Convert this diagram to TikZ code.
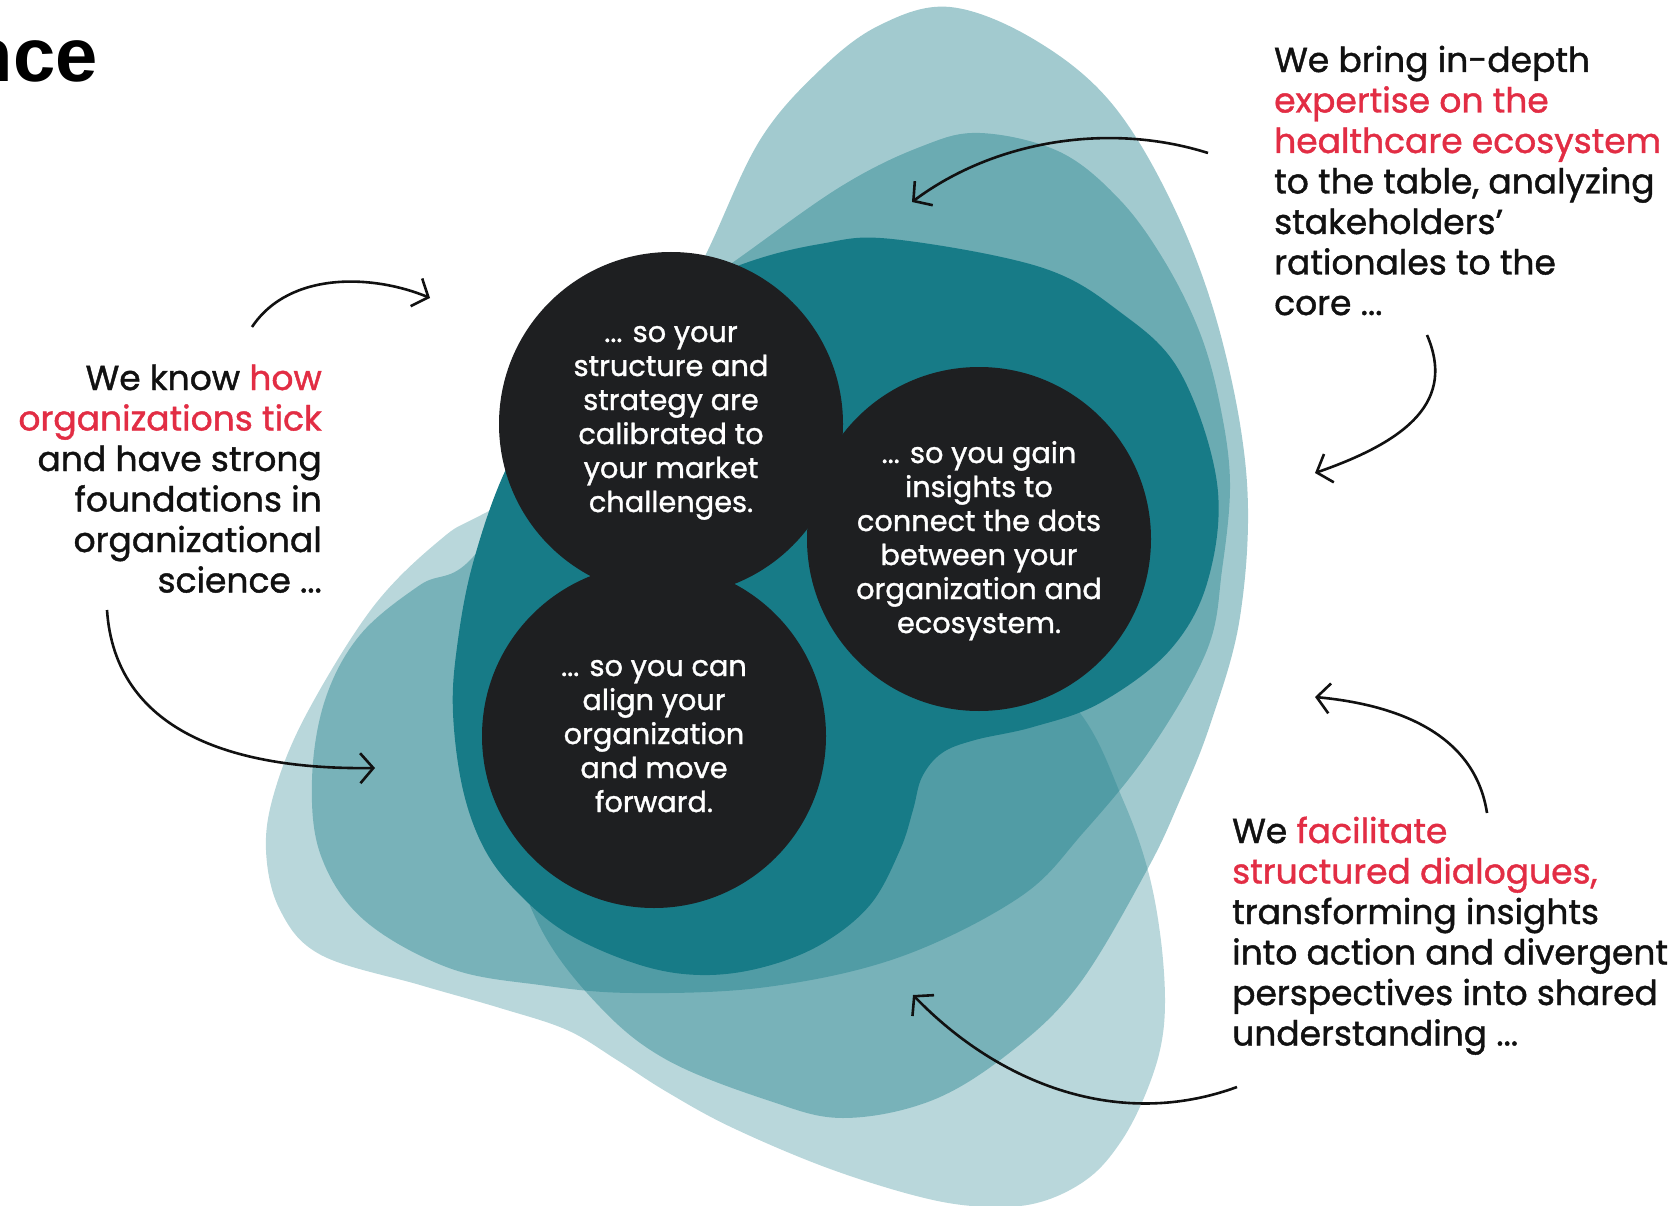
\documentclass[tikz,border=0pt]{standalone}
\usepackage{fontspec}
\setmainfont{Poppins}[FakeBold=1.2]
\newfontfamily\titlefont{Liberation Sans}
\usetikzlibrary{arrows.meta}
\definecolor{coreteal}{HTML}{177B87}
\definecolor{circleblack}{HTML}{1E1F21}
\definecolor{accent}{HTML}{E22D44}
\definecolor{ink}{HTML}{111111}
\tikzset{
  blob/.style={fill=coreteal, draw=none},
  disc/.style={circle, fill=circleblack, minimum size=344pt, inner sep=0pt},
  circtext/.style={font=\fontsize{28.8}{34}\selectfont, text=white, inner sep=0pt, anchor=base},
  lefttext/.style={font=\fontsize{34.5}{40}\selectfont, text=ink, inner sep=0pt, anchor=base east},
  righttext/.style={font=\fontsize{34.5}{40}\selectfont, text=ink, inner sep=0pt, anchor=base west},
  curvearrow/.style={draw=ink, line width=2.6pt, -{Straight Barb[length=13pt,width=30pt]}},
}
\begin{document}
\begin{tikzpicture}[x=1pt,y=-1pt]
\useasboundingbox (0,0) rectangle (1673,1206);
\clip (0,0) rectangle (1673,1206);

% title fragment
\node[font=\titlefont\bfseries\fontsize{76}{80}\selectfont, text=black, anchor=base east, inner sep=0pt] (title) at (98,82) {nce};

% blob B (light, bottom)
\fill[blob, opacity=0.3] plot[smooth cycle, tension=0.6] coordinates {
(487,512) (440,540) (373,607) (307,713) (275,790) (266,850) (280,910) (321,955) (420,985) (500,1008) (567,1030) (617,1060) (667,1092) (733,1128) (833,1170) (933,1200) (1000,1207) (1047,1200) (1090,1177) (1120,1143) (1143,1100) (1160,1050) (1165,1000) (1160,933) (1147,867) (1123,800) (1080,713) (1000,640) (850,520) (650,430)};

% blob A (tilted egg)
\fill[blob, opacity=0.4] plot[smooth cycle, tension=0.6] coordinates {
(980,133) (1060,152) (1120,200) (1165,262) (1200,333) (1220,405) (1230,483) (1222,570) (1207,650) (1150,750) (1083,833) (1020,897) (900,957) (767,987) (633,993) (540,985) (449,968) (364,920) (321,856) (312,780) (325,700) (360,635) (420,585) (473,557) (560,430) (650,320) (732,263) (840,187) (920,147)};

% blob T (tall egg)
\fill[blob, opacity=0.4] plot[smooth cycle, tension=0.6] coordinates {
(950,7) (1035,40) (1113,105) (1177,214) (1222,340) (1247,483) (1240,617) (1210,725) (1180,800) (1147,870) (1080,983) (1013,1050) (933,1100) (843,1118) (767,1100) (667,1060) (600,1007) (540,927) (505,820) (500,680) (560,520) (650,370) (708,250) (760,140) (820,70) (880,25)};

% dark core
\fill[blob] plot[smooth cycle, tension=0.6] coordinates {
(740,265) (820,244) (892,239) (1040,267) (1120,312) (1180,372) (1217,483) (1208,580) (1170,650) (1100,703) (1033,727) (975,740) (942,753) (922,777) (913,810) (900,850) (870,905) (820,945) (760,968) (700,975) (640,965) (570,935) (520,895) (485,850) (463,790) (453,713) (457,647) (473,563) (507,467) (560,380) (640,310)};

% black circles
\node[disc] (c1) at (671,424) {};
\node[disc] (c2) at (979,539) {};
\node[disc] (c3) at (654,736) {};

% circle texts
\node[circtext] (c1a) at (671,342) {... so your};
\node[circtext] (c1b) at (671,376) {structure and};
\node[circtext] (c1c) at (671,410) {strategy are};
\node[circtext] (c1d) at (671,444) {calibrated to};
\node[circtext] (c1e) at (671,478) {your market};
\node[circtext] (c1f) at (671,512) {challenges.};

\node[circtext] (c2a) at (979,463) {... so you gain};
\node[circtext] (c2b) at (979,497) {insights to};
\node[circtext] (c2c) at (979,531) {connect the dots};
\node[circtext] (c2d) at (979,565) {between your};
\node[circtext] (c2e) at (979,599) {organization and};
\node[circtext] (c2f) at (979,633) {ecosystem.};

\node[circtext] (c3a) at (654,676) {... so you can};
\node[circtext] (c3b) at (654,710) {align your};
\node[circtext] (c3c) at (654,744) {organization};
\node[circtext] (c3d) at (654,778) {and move};
\node[circtext] (c3e) at (654,812) {forward.};

% left text
\node[lefttext] (l1) at (322,390) {We know \textcolor{accent}{how}};
\node[lefttext] (l2) at (322,430.5) {\textcolor{accent}{organizations tick}};
\node[lefttext] (l3) at (322,471) {and have strong};
\node[lefttext] (l4) at (322,511.5) {foundations in};
\node[lefttext] (l5) at (322,552) {organizational};
\node[lefttext] (l6) at (322,592.5) {science ...};

% top right text
\node[righttext] (r1) at (1274,72) {We bring in-depth};
\node[righttext] (r2) at (1274,112.5) {\textcolor{accent}{expertise on the}};
\node[righttext] (r3) at (1274,153) {\textcolor{accent}{healthcare ecosystem}};
\node[righttext] (r4) at (1274,193.5) {to the table, analyzing};
\node[righttext] (r5) at (1274,234) {stakeholders'};
\node[righttext] (r6) at (1274,274.5) {rationales to the};
\node[righttext] (r7) at (1274,315) {core ...};

% bottom right text
\node[righttext] (b1) at (1232,843) {We \textcolor{accent}{facilitate}};
\node[righttext] (b2) at (1232,883.5) {\textcolor{accent}{structured dialogues,}};
\node[righttext] (b3) at (1232,924) {transforming insights};
\node[righttext] (b4) at (1232,964.5) {into action and divergent};
\node[righttext] (b5) at (1232,1005) {perspectives into shared};
\node[righttext] (b6) at (1232,1045.5) {understanding ...};

% arrow end points
\coordinate (a1s) at (252,327);  \coordinate (a1e) at (430,298);
\coordinate (a2s) at (107,610);  \coordinate (a2e) at (375,768);
\coordinate (a3s) at (1208,153); \coordinate (a3e) at (912,202);
\coordinate (a4s) at (1427,335); \coordinate (a4e) at (1315,473);
\coordinate (a5s) at (1487,813); \coordinate (a5e) at (1315,697);
\coordinate (a6s) at (1237,1087);\coordinate (a6e) at (913,995);

\draw[curvearrow] (a1s) .. controls (290,270) and (375,275) .. (a1e);
\draw[curvearrow] (a2s) .. controls (115,730) and (230,770) .. (a2e);
\draw[curvearrow] (a3s) .. controls (1110,122) and (995,140) .. (a3e);
\draw[curvearrow] (a4s) .. controls (1455,400) and (1410,440) .. (a4e);
\draw[curvearrow] (a5s) .. controls (1475,735) and (1400,705) .. (a5e);
\draw[curvearrow] (a6s) .. controls (1120,1130) and (1000,1085) .. (a6e);
\end{tikzpicture}
\end{document}
